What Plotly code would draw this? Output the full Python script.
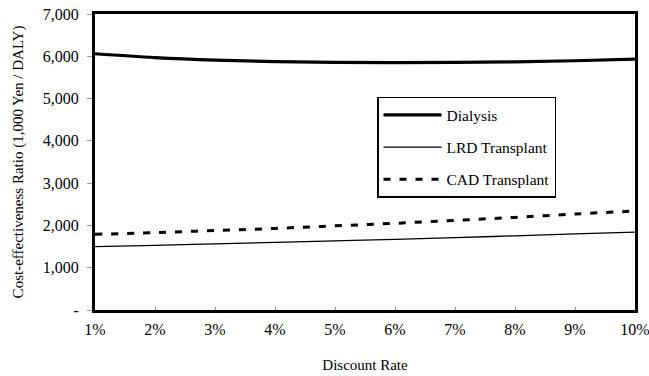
import plotly.graph_objects as go

rates = ["1%", "2%", "3%", "4%", "5%", "6%", "7%", "8%", "9%", "10%"]
dialysis = [6060, 5970, 5910, 5875, 5855, 5850, 5855, 5870, 5895, 5935]
lrd = [1500, 1530, 1565, 1600, 1635, 1670, 1710, 1755, 1800, 1840]
cad = [1790, 1830, 1880, 1930, 1990, 2050, 2120, 2190, 2270, 2340]
y_ticks = [0, 1000, 2000, 3000, 4000, 5000, 6000, 7000]
y_labels = ["-", "1,000", "2,000", "3,000", "4,000", "5,000", "6,000", "7,000"]

FONT = "Liberation Serif, Times New Roman, serif"
xs = list(range(len(rates)))

fig = go.Figure()
fig.add_trace(go.Scatter(x=xs, y=dialysis, mode="lines", name="Dialysis", legendgroup="a",
                         line=dict(color="black", width=3.2, shape="spline")))
fig.add_trace(go.Scatter(x=xs, y=lrd, mode="lines", name="LRD Transplant", legendgroup="b",
                         line=dict(color="black", width=1.3, shape="spline")))
fig.add_trace(go.Scatter(x=xs, y=cad, mode="lines", name="CAD Transplant", legendgroup="c",
                         line=dict(color="black", width=3, dash="7px,9px", shape="spline")))

fig.update_layout(
    width=649, height=376,
    margin=dict(l=95, r=14, t=14, b=66),
    paper_bgcolor="white", plot_bgcolor="white",
    font=dict(family=FONT, size=16, color="black"),
    showlegend=True,
    legend=dict(x=0.688, y=0.72, xanchor="center", yanchor="top",
                bordercolor="black", borderwidth=1.5, bgcolor="white",
                itemwidth=58, tracegroupgap=9, font=dict(family=FONT, size=15.5)),
    xaxis=dict(range=[0, 9], tickvals=xs, ticktext=rates, showgrid=False, zeroline=False,
               showline=True, mirror=True, linecolor="black", linewidth=3,
               ticks="inside", ticklen=3, tickcolor="#999", ticklabelstandoff=3,
               ticklabeloverflow="allow", automargin=False,
               title=dict(text="Discount Rate", standoff=23, font=dict(size=15))),
    yaxis=dict(range=[0, 7000], tickvals=y_ticks, ticktext=y_labels, showgrid=False, zeroline=False,
               showline=True, mirror=True, linecolor="black", linewidth=3,
               ticks="outside", ticklen=5, tickcolor="#999", ticklabelstandoff=5,
               automargin=False,
               title=dict(text="Cost-effectiveness Ratio (1,000 Yen / DALY)", standoff=16,
                          font=dict(size=15))),
)

fig.write_html("out.html", config={"displayModeBar": False},
               post_script="document.body.style.margin='0';")
